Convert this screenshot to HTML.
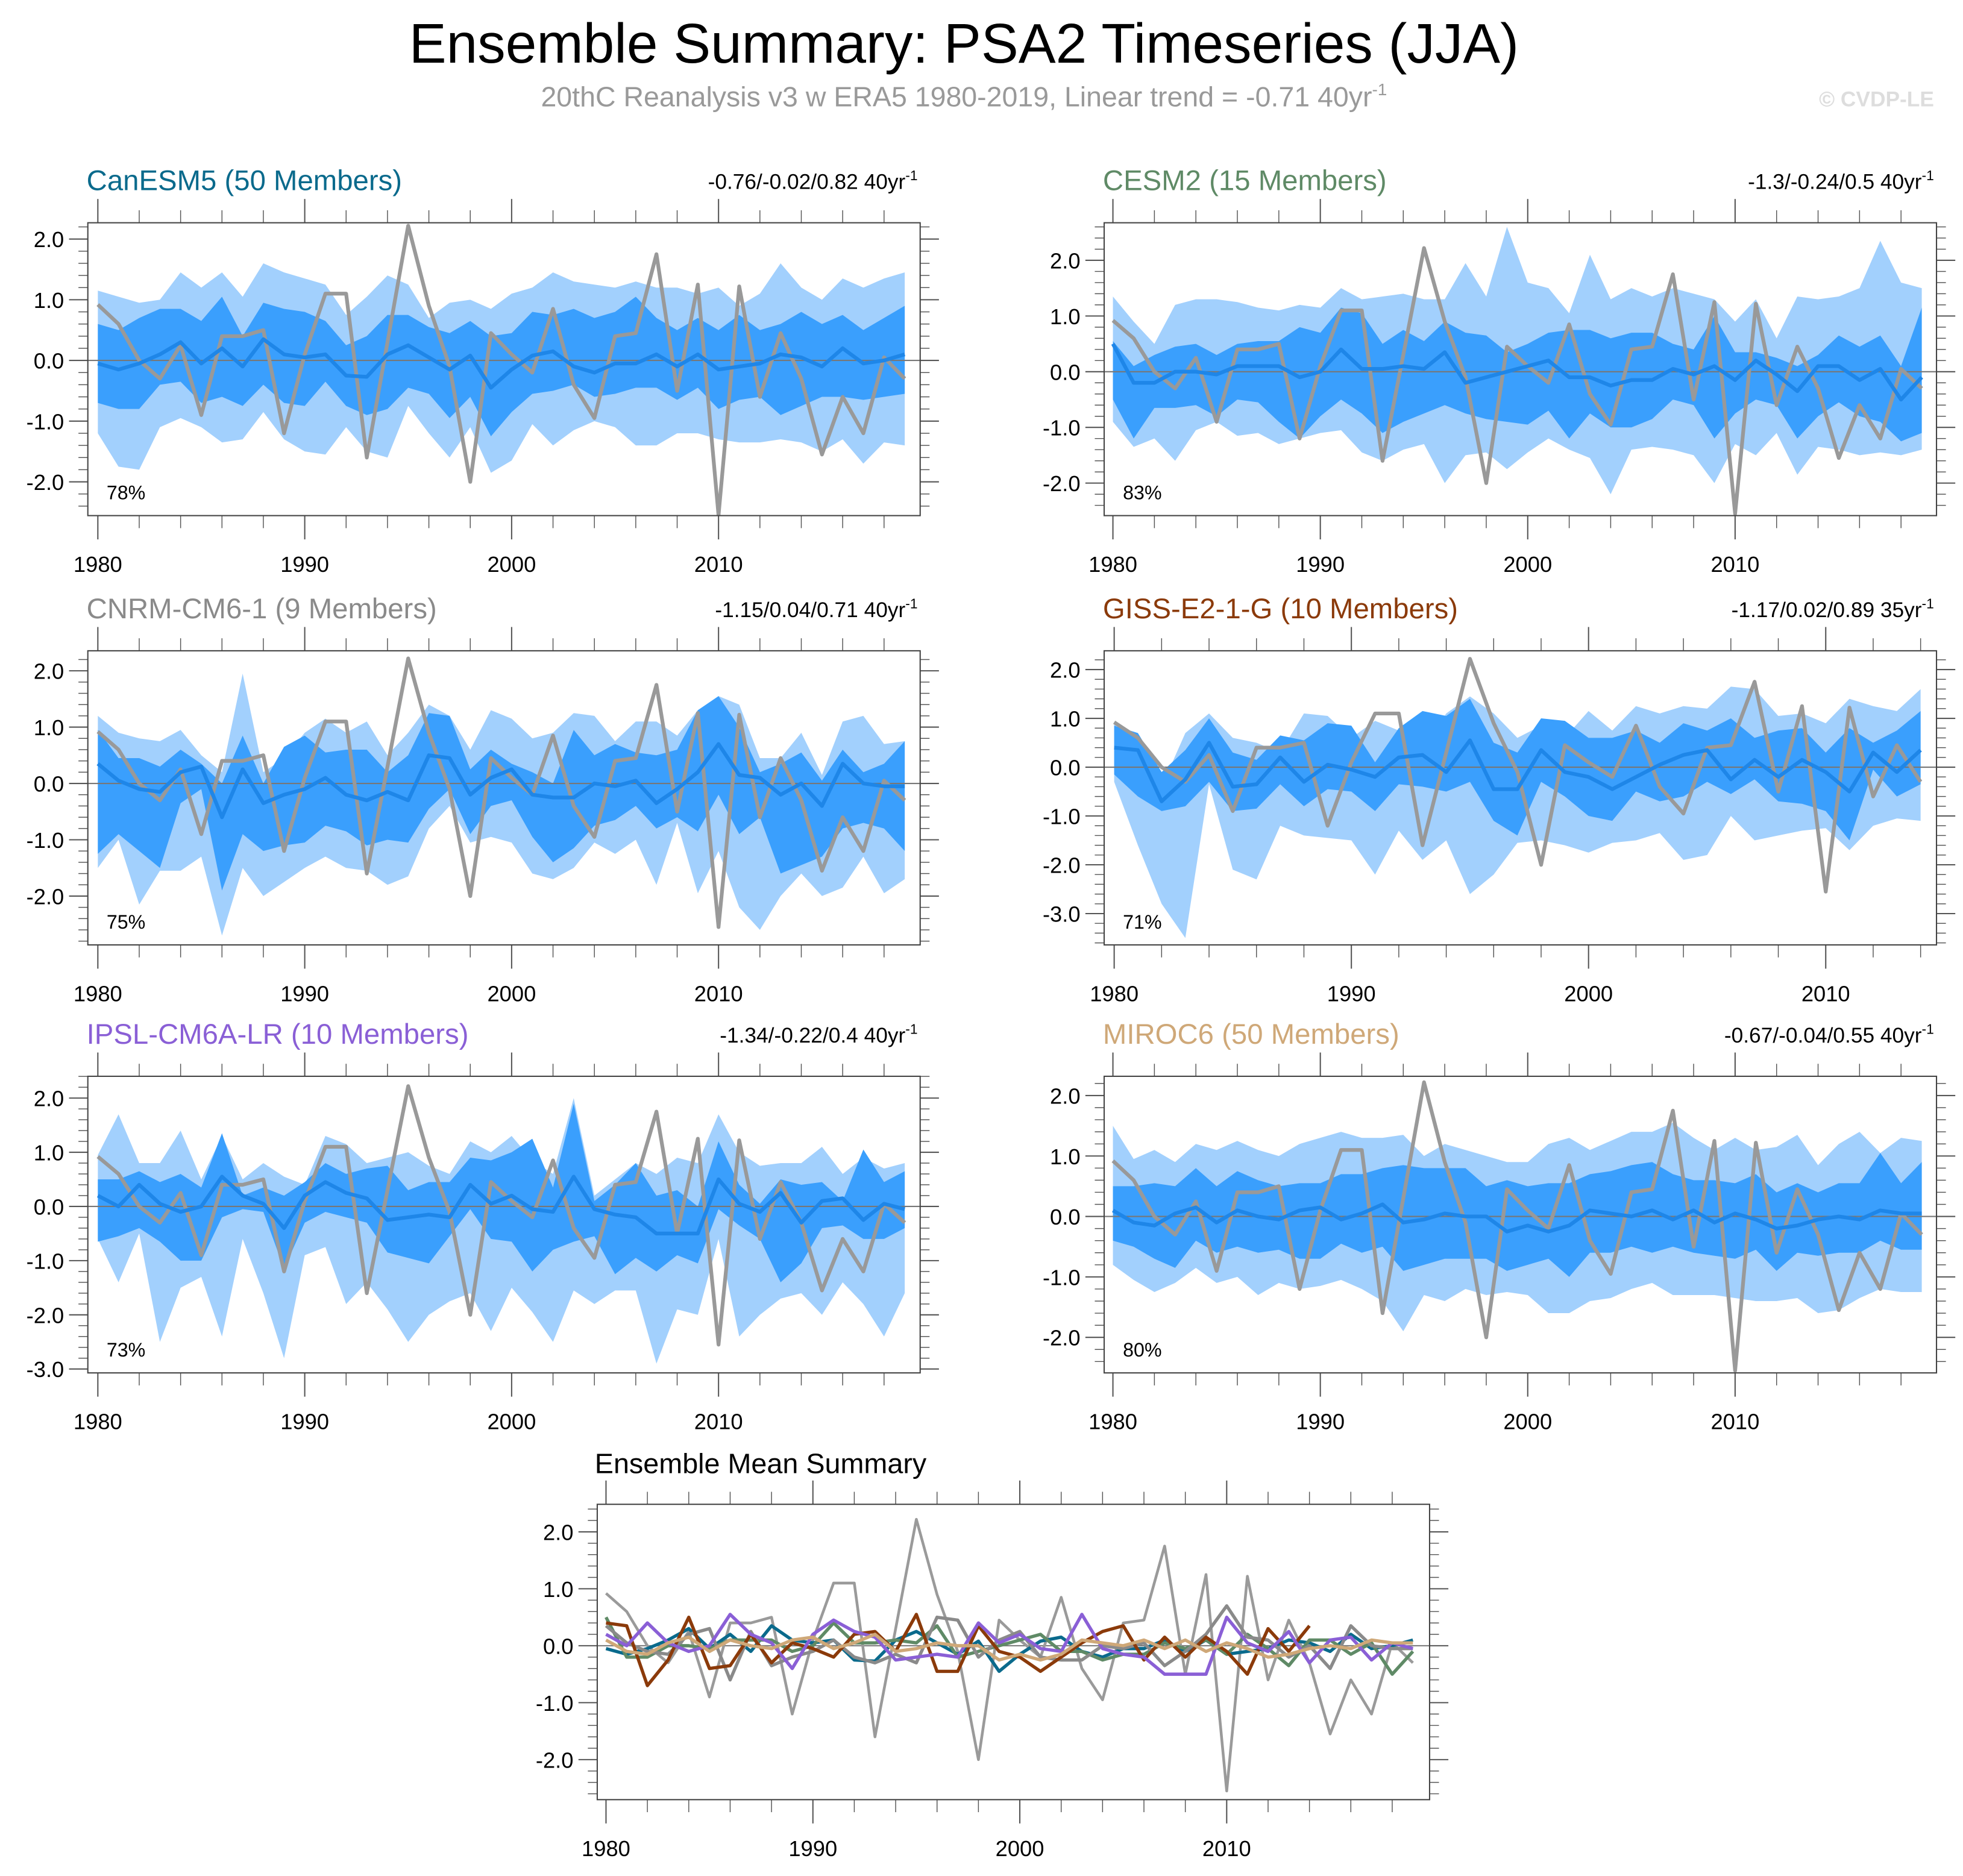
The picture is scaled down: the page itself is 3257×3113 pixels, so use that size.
<!DOCTYPE html>
<html><head><meta charset="utf-8"><style>
html,body{margin:0;padding:0;background:#fff;}
svg{display:block;font-family:"Liberation Sans",sans-serif;}
</style></head><body>
<svg id="chart" width="3257" height="3113" viewBox="0 0 1568 1499" xmlns="http://www.w3.org/2000/svg">
<text x="770" y="50" font-size="44.7" text-anchor="middle" fill="#000">Ensemble Summary: PSA2 Timeseries (JJA)</text>
<text x="770" y="85" font-size="22.4" text-anchor="middle" fill="#999">20thC Reanalysis v3 w ERA5 1980-2019, Linear trend = -0.71 40yr<tspan dy="-9" font-size="13.5">-1</tspan></text>
<text x="1545" y="85" font-size="17" font-weight="bold" text-anchor="end" fill="#ddd">© CVDP-LE</text>
<g id="panels"></g>
</svg>
<script>
const years = [1980,1981,1982,1983,1984,1985,1986,1987,1988,1989,1990,1991,1992,1993,1994,1995,1996,1997,1998,1999,2000,2001,2002,2003,2004,2005,2006,2007,2008,2009,2010,2011,2012,2013,2014,2015,2016,2017,2018,2019];
const obs = [0.92,0.6,0.0,-0.3,0.25,-0.9,0.4,0.4,0.5,-1.2,0.1,1.1,1.1,-1.6,0.3,2.22,0.9,-0.1,-2.0,0.45,0.1,-0.2,0.85,-0.4,-0.95,0.4,0.45,1.75,-0.5,1.25,-2.55,1.22,-0.6,0.45,-0.3,-1.55,-0.6,-1.2,0.05,-0.3];

const canMean = [-0.05,-0.15,-0.05,0.1,0.3,-0.05,0.2,-0.1,0.35,0.1,0.05,0.1,-0.25,-0.27,0.1,0.25,0.05,-0.15,0.08,-0.45,-0.15,0.08,0.15,-0.1,-0.2,-0.05,-0.05,0.1,-0.1,0.1,-0.15,-0.1,-0.05,0.1,0.05,-0.1,0.2,-0.05,0.0,0.1];
const canOutHi = [1.15,1.05,0.95,1.0,1.45,1.2,1.45,1.05,1.6,1.45,1.35,1.25,0.75,1.05,1.4,1.25,0.7,0.95,1.0,0.85,1.1,1.2,1.45,1.3,1.25,1.2,1.3,1.2,1.2,1.1,1.2,0.9,1.1,1.6,1.2,1.0,1.35,1.2,1.35,1.45];
const canInHi = [0.6,0.5,0.7,0.85,0.85,0.65,1.05,0.4,0.95,0.85,0.8,0.65,0.25,0.4,0.75,0.75,0.55,0.45,0.65,0.4,0.45,0.8,0.75,0.85,0.7,0.8,1.05,0.7,0.5,0.7,0.5,0.75,0.5,0.6,0.8,0.6,0.75,0.5,0.7,0.9];
const canInLo = [-0.7,-0.8,-0.8,-0.4,-0.35,-0.7,-0.6,-0.75,-0.4,-0.7,-0.75,-0.35,-0.75,-0.9,-0.8,-0.45,-0.55,-0.95,-0.6,-1.25,-0.85,-0.55,-0.5,-0.4,-0.6,-0.55,-0.45,-0.45,-0.65,-0.45,-0.8,-0.65,-0.6,-0.9,-0.75,-0.6,-0.6,-0.65,-0.6,-0.55];
const canOutLo = [-1.2,-1.75,-1.8,-1.1,-0.95,-1.1,-1.35,-1.3,-0.85,-1.3,-1.5,-1.55,-1.1,-1.5,-1.6,-0.75,-1.2,-1.6,-1.1,-1.85,-1.65,-1.05,-1.4,-1.15,-1.0,-1.1,-1.4,-1.4,-1.2,-1.2,-1.3,-1.35,-1.35,-1.3,-1.35,-1.5,-1.3,-1.7,-1.35,-1.4];

const cesmMean = [0.5,-0.2,-0.2,0.0,0.0,-0.05,0.1,0.1,0.1,-0.1,0.0,0.4,0.05,0.05,0.1,0.05,0.35,-0.2,-0.1,0.0,0.1,0.2,-0.1,-0.1,-0.25,-0.15,-0.15,0.05,-0.05,0.1,-0.15,0.2,-0.05,-0.35,0.1,0.1,-0.15,0.05,-0.5,-0.1];
const cesmOutHi = [1.35,0.9,0.5,1.2,1.3,1.3,1.25,1.15,1.1,1.2,1.15,1.5,1.3,1.35,1.4,1.3,1.3,1.95,1.35,2.6,1.6,1.5,1.05,2.1,1.3,1.5,1.35,1.5,1.4,1.3,0.9,1.3,0.6,1.35,1.3,1.35,1.5,2.35,1.6,1.5];
const cesmInHi = [0.55,0.1,0.3,0.45,0.5,0.3,0.5,0.55,0.55,0.8,0.7,1.15,1.05,0.5,0.75,0.55,0.9,0.7,0.65,0.35,0.5,0.7,0.75,0.75,0.6,0.7,0.7,0.5,0.4,1.0,0.35,0.35,0.25,0.1,0.3,0.65,0.45,0.65,0.1,1.15];
const cesmInLo = [-0.5,-1.2,-0.65,-0.65,-0.6,-0.8,-0.5,-0.55,-0.9,-1.2,-0.8,-0.5,-0.75,-1.1,-0.9,-0.75,-0.6,-0.75,-0.85,-0.9,-0.95,-0.7,-1.2,-0.75,-1.0,-1.0,-0.85,-0.5,-0.6,-1.2,-0.75,-0.5,-0.6,-1.2,-0.8,-0.55,-0.8,-0.9,-1.25,-1.1];
const cesmOutLo = [-0.9,-1.35,-1.2,-1.6,-1.05,-0.9,-1.15,-1.1,-1.3,-1.2,-1.1,-1.05,-1.45,-1.6,-1.4,-1.3,-2.0,-1.5,-1.45,-1.75,-1.45,-1.2,-1.4,-1.55,-2.2,-1.4,-1.35,-1.4,-1.5,-2.0,-1.3,-1.5,-1.1,-1.85,-1.35,-1.4,-1.5,-1.45,-1.5,-1.4];

const cnrmMean = [0.35,0.05,-0.1,-0.15,0.2,0.3,-0.6,0.25,-0.35,-0.2,-0.1,0.1,-0.2,-0.3,-0.15,-0.3,0.5,0.45,-0.2,0.1,0.25,-0.2,-0.25,-0.25,0.0,-0.05,0.05,-0.35,-0.1,0.2,0.7,0.15,0.1,-0.2,0.0,-0.4,0.35,0.0,-0.05,-0.05];
const cnrmOutHi = [1.2,0.9,0.8,0.75,0.95,0.5,0.2,1.95,0.2,0.45,0.9,1.15,0.9,1.1,0.5,0.9,1.4,1.2,0.6,1.3,1.15,0.8,0.9,1.25,1.2,0.75,1.1,1.1,0.85,1.3,1.55,1.4,0.45,0.45,0.9,0.15,1.1,1.2,0.7,0.75];
const cnrmInHi = [0.95,0.45,0.45,0.3,0.6,0.35,0.0,0.85,0.0,0.65,0.85,0.55,0.6,0.6,0.2,0.5,1.25,1.2,0.25,0.6,0.35,0.2,0.0,0.95,0.5,0.7,0.55,0.5,0.6,1.3,1.55,1.0,0.2,0.35,0.55,0.05,0.6,0.2,0.35,0.75];
const cnrmInLo = [-1.25,-0.9,-1.2,-1.5,-0.35,-0.1,-1.9,-0.9,-1.2,-1.1,-1.05,-0.75,-0.85,-1.1,-1.0,-1.05,-0.45,-0.1,-0.9,-0.4,-0.3,-0.95,-1.4,-1.15,-0.75,-0.65,-0.4,-0.8,-0.6,-0.85,-0.2,-0.9,-0.6,-1.6,-1.45,-1.3,-0.8,-0.7,-0.8,-1.2];
const cnrmOutLo = [-1.5,-1.0,-2.15,-1.55,-1.55,-1.3,-2.7,-1.5,-2.0,-1.75,-1.5,-1.3,-1.5,-1.55,-1.8,-1.65,-0.8,-0.4,-1.05,-0.95,-1.05,-1.6,-1.7,-1.5,-1.05,-1.25,-1.0,-1.8,-0.7,-1.95,-1.2,-2.2,-2.6,-2.0,-1.6,-2.0,-1.85,-1.3,-1.95,-1.7];

const gissMean = [0.4,0.35,-0.7,-0.25,0.5,-0.4,-0.35,0.2,-0.3,0.05,-0.05,-0.2,0.2,0.25,-0.1,0.55,-0.45,-0.45,0.35,-0.1,-0.2,-0.45,-0.2,0.05,0.25,0.35,-0.25,0.15,-0.2,0.15,-0.1,-0.5,0.3,-0.1,0.35];
const gissOutHi = [0.9,0.3,-0.4,0.7,1.1,0.6,0.5,0.3,1.1,1.05,0.6,0.95,0.75,0.4,1.1,1.45,1.1,0.6,0.85,0.6,1.15,0.75,1.25,1.1,1.25,1.2,1.65,1.6,1.05,1.1,0.9,1.4,1.25,1.15,1.6];
const gissInHi = [0.85,0.7,-0.1,0.35,1.0,0.3,0.15,0.65,0.55,0.9,0.85,0.1,0.8,1.15,1.05,1.4,0.5,0.3,1.0,0.95,0.6,0.6,0.75,0.5,0.9,0.75,1.0,0.6,0.75,0.8,0.3,0.8,0.5,0.75,1.15];
const gissInLo = [-0.15,-0.6,-0.9,-0.8,-0.3,-0.9,-0.85,-0.35,-0.8,-0.45,-0.5,-0.9,-0.35,-0.4,-0.5,-0.3,-1.1,-1.4,-0.3,-0.6,-1.0,-1.1,-0.5,-0.7,-0.6,-0.3,-0.55,-0.25,-0.7,-0.75,-0.9,-1.5,-0.05,-0.6,-0.35];
const gissOutLo = [-0.3,-1.6,-2.8,-3.5,-0.35,-2.1,-2.3,-1.2,-1.4,-1.45,-1.5,-2.2,-1.3,-1.9,-1.5,-2.6,-2.2,-1.55,-1.5,-1.6,-1.75,-1.55,-1.5,-1.35,-1.9,-1.8,-1.0,-1.5,-1.4,-1.3,-1.25,-1.7,-1.2,-1.05,-1.1];

const ipslMean = [0.2,0.0,0.4,0.05,-0.1,0.0,0.55,0.2,0.05,-0.4,0.2,0.45,0.25,0.15,-0.25,-0.2,-0.15,-0.2,0.4,0.05,0.2,-0.05,-0.1,0.55,-0.05,-0.15,-0.2,-0.5,-0.5,-0.5,0.5,0.05,-0.1,0.25,-0.3,0.1,0.15,-0.25,0.05,-0.05];
const ipslOutHi = [0.95,1.7,0.8,0.8,1.4,0.5,1.3,0.5,0.8,0.55,0.4,1.3,1.15,0.8,0.9,1.0,0.75,0.6,1.2,1.0,1.3,0.85,0.6,2.0,0.2,0.5,0.8,0.6,0.9,0.8,1.7,1.0,0.75,0.8,0.8,1.1,0.6,0.9,0.7,0.8];
const ipslInHi = [0.5,0.5,0.65,0.45,0.6,0.35,1.35,0.2,0.35,0.2,0.45,0.8,0.6,0.7,0.75,0.3,0.45,0.45,0.9,0.85,1.0,1.25,0.35,1.9,0.1,0.4,0.8,0.2,0.3,0.0,1.2,0.4,0.05,0.5,0.4,0.45,0.1,1.05,0.45,0.65];
const ipslInLo = [-0.65,-0.55,-0.4,-0.65,-1.0,-1.0,-0.2,-0.05,-0.1,-1.15,-0.3,-0.1,-0.2,-0.3,-0.85,-0.95,-1.05,-0.55,-0.05,-0.6,-0.65,-1.2,-0.8,-0.65,-0.55,-1.25,-0.95,-1.2,-0.9,-1.05,-0.05,-0.35,-0.6,-1.4,-1.05,-0.4,-0.35,-0.6,-0.6,-0.4];
const ipslOutLo = [-0.6,-1.4,-0.5,-2.5,-1.5,-1.3,-2.4,-0.6,-1.6,-2.8,-0.9,-0.75,-1.8,-1.4,-1.9,-2.5,-2.0,-1.75,-1.6,-2.3,-1.5,-1.95,-2.5,-1.55,-1.8,-1.55,-1.55,-2.9,-1.9,-2.0,-0.6,-2.4,-2.0,-1.7,-1.6,-2.0,-1.4,-1.8,-2.4,-1.6];

const mirocMean = [0.1,-0.1,-0.15,0.05,0.15,-0.1,0.1,0.0,-0.05,0.1,0.15,-0.05,0.05,0.2,-0.1,-0.05,0.05,0.0,0.0,-0.25,-0.15,-0.25,-0.15,0.1,0.05,0.0,0.1,-0.05,0.1,-0.1,0.05,-0.05,-0.2,-0.15,-0.05,0.0,-0.05,0.1,0.05,0.05];
const mirocOutHi = [1.5,0.95,1.1,0.9,1.2,1.1,1.25,1.1,1.0,1.2,1.3,1.4,1.3,1.3,1.35,1.0,1.2,1.1,1.0,0.9,0.9,1.2,1.3,1.1,1.25,1.4,1.4,1.55,1.3,1.1,1.3,1.1,1.15,1.35,0.85,1.2,1.4,1.05,1.3,1.25];
const mirocInHi = [0.5,0.5,0.55,0.5,0.8,0.5,0.75,0.6,0.5,0.55,0.55,0.7,0.7,0.8,0.85,0.8,0.8,0.8,0.5,0.6,0.5,0.55,0.55,0.7,0.75,0.85,0.9,0.7,0.6,0.6,0.55,0.7,0.4,0.55,0.4,0.55,0.55,1.05,0.55,0.9];
const mirocInLo = [-0.4,-0.5,-0.7,-0.85,-0.4,-0.6,-0.5,-0.6,-0.55,-0.7,-0.7,-0.45,-0.6,-0.5,-0.9,-0.8,-0.7,-0.7,-0.7,-0.9,-0.8,-0.7,-1.0,-0.6,-0.6,-0.5,-0.6,-0.5,-0.6,-0.65,-0.7,-0.55,-0.9,-0.6,-0.65,-0.6,-0.6,-0.4,-0.55,-0.55];
const mirocOutLo = [-0.8,-1.05,-1.25,-1.1,-0.85,-1.1,-1.0,-1.3,-1.1,-1.2,-1.15,-1.05,-1.2,-1.4,-1.9,-1.3,-1.4,-1.2,-1.3,-1.25,-1.3,-1.6,-1.6,-1.4,-1.35,-1.2,-1.1,-1.3,-1.3,-1.3,-1.35,-1.4,-1.4,-1.35,-1.6,-1.55,-1.35,-1.2,-1.25,-1.25];

const xTickYears = [1980,1990,2000,2010];
const yTicks5 = [2,1,0,-1,-2];
const yTicks6 = [2,1,0,-1,-2,-3];

const NS='http://www.w3.org/2000/svg';
const root=document.getElementById('panels');
function mk(tag,attrs,parent){const e=document.createElementNS(NS,tag);for(const k in attrs)e.setAttribute(k,attrs[k]);(parent||root).appendChild(e);return e;}

function axes(P,g,nYears){
  const xs=v=>P.xa+(v-1980)*P.xs;
  const ys=v=>P.yz-v*P.ys;
  const bx0=P.bx, bx1=P.bx+665, by0=P.by, by1=P.by+P.bh;
  const yTop=(P.yz-by0)/P.ys, yBot=(P.yz-by1)/P.ys;
  for(let k=Math.ceil(yBot*5);k<=Math.floor(yTop*5);k++){
    const v=k/5, major=(k%5===0), L=major?15:7.5;
    mk('line',{x1:bx0,x2:bx0-L,y1:ys(v),y2:ys(v),stroke:'#555','stroke-width':major?1:0.7},g);
    mk('line',{x1:bx1,x2:bx1+L,y1:ys(v),y2:ys(v),stroke:'#555','stroke-width':major?1:0.7},g);
  }
  for(let yr=1980;yr<1980+nYears+1;yr+=2){
    const x=xs(yr); if(x>bx1) break;
    const major=(yr%10===0), L=major?19:10;
    mk('line',{x1:x,x2:x,y1:by0,y2:by0-L,stroke:'#555','stroke-width':major?1:0.7},g);
    mk('line',{x1:x,x2:x,y1:by1,y2:by1+L,stroke:'#555','stroke-width':major?1:0.7},g);
  }
  xTickYears.forEach(yr=>{
    const t=mk('text',{x:xs(yr),y:by1+45,'font-size':17.5,'text-anchor':'middle',fill:'#000'},g);
    
    
    t.textContent=yr;
  });
  P.yt.forEach(v=>{
    const t=mk('text',{x:bx0-19,y:ys(v)+6.5,'font-size':17.5,'text-anchor':'end',fill:'#000'},g);
    
    
    t.textContent=v.toFixed(1);
  });
  return {xs,ys,bx0,bx1,by0,by1};
}
function linePath(arr,xs,ys){return arr.map((v,i)=>(i?'L':'M')+xs(years[i]).toFixed(2)+','+ys(v).toFixed(2)).join('');}
function bandPath(lo,hi,xs,ys){
  let d=hi.map((v,i)=>(i?'L':'M')+xs(years[i]).toFixed(2)+','+ys(v).toFixed(2)).join('');
  for(let i=lo.length-1;i>=0;i--) d+='L'+xs(years[i]).toFixed(2)+','+ys(lo[i]).toFixed(2);
  return d+'Z';
}

const panels=[
 {name:'canesm5',title:'CanESM5 (50 Members)',color:'#0a6a8c',trend:'-0.76/-0.02/0.82 40yr',pct:'78%',bx:70,by:178,bh:234,xa:78,xs:16.53,yz:288,ys:48.5,yt:yTicks5,d:[canMean,canOutHi,canInHi,canInLo,canOutLo]},
 {name:'cesm2',title:'CESM2 (15 Members)',color:'#5f8a66',trend:'-1.3/-0.24/0.5 40yr',pct:'83%',bx:882,by:178,bh:234,xa:889,xs:16.57,yz:297,ys:44.5,yt:yTicks5,d:[cesmMean,cesmOutHi,cesmInHi,cesmInLo,cesmOutLo]},
 {name:'cnrm-cm6-1',title:'CNRM-CM6-1 (9 Members)',color:'#8a8a8a',trend:'-1.15/0.04/0.71 40yr',pct:'75%',bx:70,by:520,bh:235,xa:78,xs:16.53,yz:626,ys:45,yt:yTicks5,d:[cnrmMean,cnrmOutHi,cnrmInHi,cnrmInLo,cnrmOutLo]},
 {name:'giss-e2-1-g',title:'GISS-E2-1-G (10 Members)',color:'#8b3a0a',trend:'-1.17/0.02/0.89 35yr',pct:'71%',bx:882,by:520,bh:235,xa:890,xs:18.95,yz:613,ys:39,yt:yTicks6,d:[gissMean,gissOutHi,gissInHi,gissInLo,gissOutLo]},
 {name:'ipsl-cm6a-lr',title:'IPSL-CM6A-LR (10 Members)',color:'#8a5fd6',trend:'-1.34/-0.22/0.4 40yr',pct:'73%',bx:70,by:860,bh:237,xa:78,xs:16.53,yz:964,ys:43.3,yt:yTicks6,d:[ipslMean,ipslOutHi,ipslInHi,ipslInLo,ipslOutLo]},
 {name:'miroc6',title:'MIROC6 (50 Members)',color:'#cfa878',trend:'-0.67/-0.04/0.55 40yr',pct:'80%',bx:882,by:860,bh:237,xa:889,xs:16.57,yz:972,ys:48.3,yt:yTicks5,d:[mirocMean,mirocOutHi,mirocInHi,mirocInLo,mirocOutLo]}
];

panels.forEach(P=>{
  const g=mk('g',{});
  
  
  const n=P.d[0].length;
  const A=axes(P,g,n);
  const clip=mk('clipPath',{id:'clip-'+P.name},g);
  mk('rect',{x:A.bx0,y:A.by0,width:665,height:P.bh},clip);
  const pg=mk('g',{'clip-path':'url(#clip-'+P.name+')'},g);
  const o=mk('path',{d:bandPath(P.d[4],P.d[1],A.xs,A.ys),fill:'#a2d0fd'},pg);
  
  
  const inn=mk('path',{d:bandPath(P.d[3],P.d[2],A.xs,A.ys),fill:'#3a9ffd'},pg);
  
  
  mk('line',{x1:A.bx0,x2:A.bx1,y1:A.ys(0),y2:A.ys(0),stroke:'#777','stroke-width':1},pg);
  const ob=mk('path',{d:linePath(obs.slice(0,n),A.xs,A.ys),fill:'none',stroke:'#999','stroke-width':3,'stroke-linejoin':'round'},pg);
  
  
  const m=mk('path',{d:linePath(P.d[0],A.xs,A.ys),fill:'none',stroke:'#1e86e8','stroke-width':3,'stroke-linejoin':'round'},pg);
  
  
  mk('rect',{x:A.bx0,y:A.by0,width:665,height:P.bh,fill:'none',stroke:'#444','stroke-width':1},g);
  const t=mk('text',{x:P.bx-1,y:P.by-26,'font-size':22.8,fill:P.color},g);
  
  
  t.textContent=P.title;
  const tr=mk('text',{x:A.bx1-2,y:P.by-27,'font-size':17,'text-anchor':'end',fill:'#000'},g);
  
  
  tr.textContent=P.trend;
  const sup=mk('tspan',{dy:-7,'font-size':11},tr); sup.textContent='-1';
  const pc=mk('text',{x:P.bx+15,y:A.by1-13,'font-size':15.5,fill:'#000'},g);
  
  
  pc.textContent=P.pct;
});

(function(){
  const P={name:'ensemble-mean-summary',bx:477,by:1202,bh:236,xa:484,xs:16.53,yz:1315,ys:45.5,yt:yTicks5};
  const g=mk('g',{});
  
  
  const A=axes(P,g,40);
  const clip=mk('clipPath',{id:'clip-sum'},g);
  mk('rect',{x:A.bx0,y:A.by0,width:665,height:P.bh},clip);
  const pg=mk('g',{'clip-path':'url(#clip-sum)'},g);
  mk('line',{x1:A.bx0,x2:A.bx1,y1:A.ys(0),y2:A.ys(0),stroke:'#777','stroke-width':1},pg);
  const ob=mk('path',{d:linePath(obs,A.xs,A.ys),fill:'none',stroke:'#9a9a9a','stroke-width':2.2,'stroke-linejoin':'round'},pg);
  
  
  panels.forEach(Q=>{
    const l=mk('path',{d:linePath(Q.d[0],A.xs,A.ys),fill:'none',stroke:Q.color,'stroke-width':2.6,'stroke-linejoin':'round'},pg);
    
    
  });
  mk('rect',{x:A.bx0,y:A.by0,width:665,height:P.bh,fill:'none',stroke:'#444','stroke-width':1},g);
  const t=mk('text',{x:475,y:1177,'font-size':22.5,fill:'#000'},g);
  
  
  t.textContent='Ensemble Mean Summary';
})();
</script>
</body></html>
